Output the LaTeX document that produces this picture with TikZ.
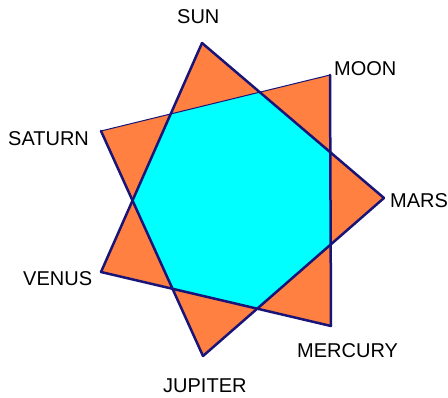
\documentclass[tikz,border=0pt]{standalone}
\usepackage{fontspec}
\setmainfont{Liberation Sans}
\definecolor{starorange}{RGB}{255,128,64}
\definecolor{starcyan}{RGB}{0,255,255}
\definecolor{starnavy}{RGB}{25,20,120}
\begin{document}
\begin{tikzpicture}[x=1pt,y=-1pt,
  lbl/.style={anchor=base west,inner sep=0pt,font=\fontsize{20}{20}\selectfont},
  edge/.style={draw=starnavy,line width=2.5pt,line join=round,line cap=round},
  thinedge/.style={draw=starnavy,line width=1pt}]
\useasboundingbox (0,0) rectangle (448,398);
\fill[white] (0,0) rectangle (448,398);
\coordinate (sun) at (202,43);
\coordinate (moon) at (330,75);
\coordinate (mars) at (384,198);
\coordinate (mercury) at (331,326);
\coordinate (jupiter) at (203,356);
\coordinate (venus) at (101,272);
\coordinate (saturn) at (101,131);
% fills
\fill[starcyan] (sun) -- (mars) -- (jupiter) -- (saturn) -- (moon) -- (mercury) -- (venus) -- cycle;
\fill[starorange,even odd rule] (sun) -- (mars) -- (jupiter) -- (saturn) -- (moon) -- (mercury) -- (venus) -- cycle;
% edges
\draw[thinedge] (saturn) -- (moon);
\draw[edge] (sun) -- (mars);
\draw[edge] (mars) -- (jupiter);
\draw[edge] (jupiter) -- (saturn);
\draw[edge] (moon) -- (mercury);
\draw[edge] (mercury) -- (venus);
\draw[edge] (venus) -- (sun);
% labels
\node[lbl] (lsun) at (177,24) {SUN};
\node[lbl] (lmoon) at (334,76) {MOON};
\node[lbl] (lmars) at (390,208) {MARS};
\node[lbl] (lmercury) at (297,358) {MERCURY};
\node[lbl] (ljupiter) at (163,393) {JUPITER};
\node[lbl] (lvenus) at (23,286) {VENUS};
\node[lbl] (lsaturn) at (8,146) {SATURN};
\end{tikzpicture}
\end{document}
